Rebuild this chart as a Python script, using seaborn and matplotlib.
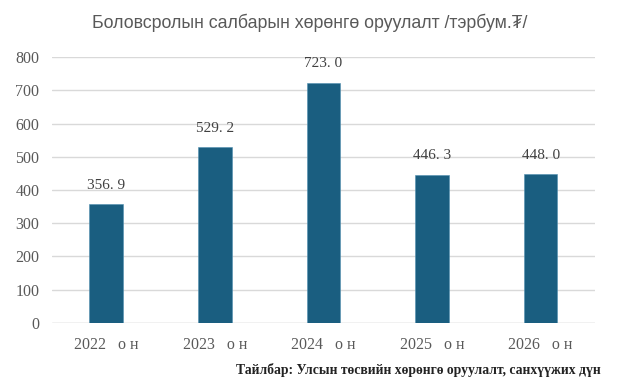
import matplotlib
matplotlib.use("Agg")
import matplotlib.pyplot as plt
import seaborn as sns
import pandas as pd

years = ["2022", "2023", "2024", "2025", "2026"]
values = [356.9, 529.2, 723.0, 446.3, 448.0]
tick_labels = [f"{y}   о н" for y in years]
title = "Боловсролын салбарын хөрөнгө оруулалт /тэрбум.₮/"
note = "Тайлбар: Улсын төсвийн хөрөнгө оруулалт, санхүүжих дүн"

df = pd.DataFrame({"year": tick_labels, "value": values})

sns.set_theme(style="white")
plt.rcParams["font.family"] = ["DejaVu Sans"]

fig = plt.figure(figsize=(6.19, 3.83), dpi=100)
ax = fig.add_axes([0.084, 0.157, 0.877, 0.694])

sns.barplot(data=df, x="year", y="value", color="#1a5e80", width=0.31,
            saturation=1, ax=ax, zorder=3, edgecolor="#4f8fb0", linewidth=0.4)

ax.set_ylim(0, 800)
ax.set_yticks(range(0, 801, 100))
ax.yaxis.grid(True, color="#d9d9d9", linewidth=1, zorder=0)
ax.set_axisbelow(True)
for s in ax.spines.values():
    s.set_visible(False)
ax.axhline(0, color="#d9d9d9", linewidth=1, zorder=1)
ax.set_xlabel("")
ax.set_ylabel("")
ax.tick_params(axis="y", length=0, pad=9, labelsize=11.5, labelcolor="#595959")
ax.tick_params(axis="x", length=0, pad=10, labelsize=11.5, labelcolor="#595959")
for lab in ax.get_xticklabels() + ax.get_yticklabels():
    lab.set_family(["Liberation Serif", "DejaVu Serif"])

for i, v in enumerate(values):
    s = f"{v:.1f}".replace(".", ". ")
    ax.annotate(s, (i, v), xytext=(0, 9), textcoords="offset points",
                ha="center", va="bottom", fontsize=11, color="#404040",
                family=["Liberation Serif", "DejaVu Serif"])

fig.text(0.5, 0.94, title, ha="center", va="center", fontsize=12.8,
         color="#595959", family=["Liberation Sans", "DejaVu Sans"])
fig.text(0.97, 0.035, note, ha="right", va="center", fontsize=9.8,
         fontweight="bold", color="#222222",
         family=["Liberation Serif", "DejaVu Serif"])

fig.savefig("out.png", dpi=100)
